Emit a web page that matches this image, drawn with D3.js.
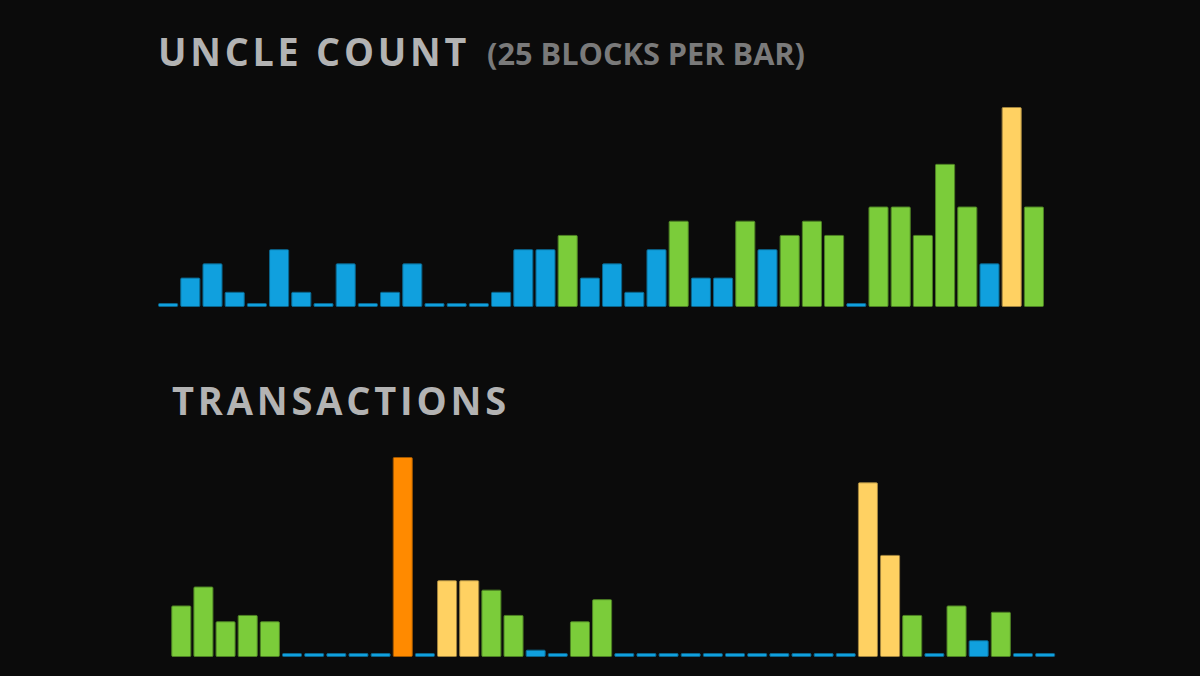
<!DOCTYPE html>
<html>
<head>
<meta charset="utf-8">
<script src="https://cdn.jsdelivr.net/npm/d3@7"></script>
<style>
  html, body { margin: 0; padding: 0; background: #0b0b0b; }
  svg { display: block; }
  .title { font-family: "Open Sans", sans-serif; font-weight: 700; fill: #b3b3b3; letter-spacing: 4px; }
  .subtitle { font-family: "Open Sans", sans-serif; font-weight: 700; fill: #7a7a7a; }
</style>
</head>
<body>
<svg id="chart"></svg>
<script>
// uncle count per 25 blocks
const uncleCounts = [0, 2, 3, 1, 0, 4, 1, 0, 3, 0, 1, 3, 0, 0, 0, 1, 4, 4, 5, 2,
                     3, 1, 4, 6, 2, 2, 6, 4, 5, 6, 5, 0, 7, 7, 5, 10, 7, 3, 14, 7];
// transactions per block
const txCounts = [16, 22, 11, 13, 11, 0, 0, 0, 0, 0, 63, 0, 24, 24, 21, 13, 2, 0, 11, 18,
                  0, 0, 0, 0, 0, 0, 0, 0, 0, 0, 0, 55, 32, 13, 0, 16, 5, 14, 0, 0];

const uncleThresholds = [5, 12, 20];
const txThresholds = [8, 23, 60];
const barColors = ['#10a0de', '#7bcc3a', '#ffd162', '#ff8a00'];

class BarStrip {
  constructor(_config, _data) {
    this.config = {
      parentElement: _config.parentElement,
      left: _config.left,
      right: _config.right,
      baseline: _config.baseline,
      barHeight: _config.barHeight || 199,
      thresholds: _config.thresholds,
      title: _config.title,
      titleWidth: _config.titleWidth,
      titleX: _config.titleX,
      titleY: _config.titleY,
      subtitle: _config.subtitle || null,
      subtitleX: _config.subtitleX,
      subtitleWidth: _config.subtitleWidth
    };
    this.data = _data;
    this.initVis();
  }

  initVis() {
    let vis = this;

    vis.xScale = d3.scaleBand()
        .domain(d3.range(vis.data.length))
        .range([vis.config.left, vis.config.right])
        .paddingInner(0.14)
        .paddingOuter(0.07);

    vis.yScale = d3.scaleLinear()
        .domain([0, d3.max(vis.data)])
        .range([vis.config.baseline, vis.config.baseline - vis.config.barHeight]);

    vis.colorScale = d3.scaleThreshold()
        .domain(vis.config.thresholds)
        .range(barColors);

    vis.chart = vis.config.parentElement.append('g');

    vis.chart.append('text')
        .attr('class', 'title')
        .attr('x', vis.config.titleX)
        .attr('y', vis.config.titleY)
        .attr('font-size', 40)
        .attr('textLength', vis.config.titleWidth)
        .attr('lengthAdjust', 'spacingAndGlyphs')
        .text(vis.config.title);

    if (vis.config.subtitle) {
      vis.chart.append('text')
          .attr('class', 'subtitle')
          .attr('x', vis.config.subtitleX)
          .attr('y', vis.config.titleY - 1)
          .attr('font-size', 30)
          .attr('textLength', vis.config.subtitleWidth)
          .attr('lengthAdjust', 'spacingAndGlyphs')
          .text(vis.config.subtitle);
    }

    vis.renderVis();
  }

  renderVis() {
    let vis = this;
    const minH = 3;

    vis.chart.selectAll('.bar')
        .data(vis.data)
        .join('rect')
        .attr('class', 'bar')
        .attr('x', (d, i) => vis.xScale(i))
        .attr('width', vis.xScale.bandwidth())
        .attr('y', d => Math.min(vis.yScale(d), vis.config.baseline - minH))
        .attr('height', d => Math.max(vis.config.baseline - vis.yScale(d), minH))
        .attr('rx', 1)
        .attr('fill', d => vis.colorScale(d))
        .attr('stroke', d => d3.color(vis.colorScale(d)).darker(1.3))
        .attr('stroke-width', 1);
  }
}

const svg = d3.select('#chart')
    .attr('width', 1200)
    .attr('height', 676);

svg.append('rect')
    .attr('width', 1200)
    .attr('height', 676)
    .attr('fill', '#0b0b0b');

new BarStrip({
  parentElement: svg,
  left: 157, right: 1045, baseline: 306.5,
  thresholds: uncleThresholds,
  title: 'UNCLE COUNT', titleX: 158, titleY: 66, titleWidth: 312,
  subtitle: '(25 BLOCKS PER BAR)', subtitleX: 487, subtitleWidth: 318
}, uncleCounts);

new BarStrip({
  parentElement: svg,
  left: 170.2, right: 1056.2, baseline: 656.5,
  thresholds: txThresholds,
  title: 'TRANSACTIONS', titleX: 172, titleY: 415, titleWidth: 338
}, txCounts);
</script>
</body>
</html>
